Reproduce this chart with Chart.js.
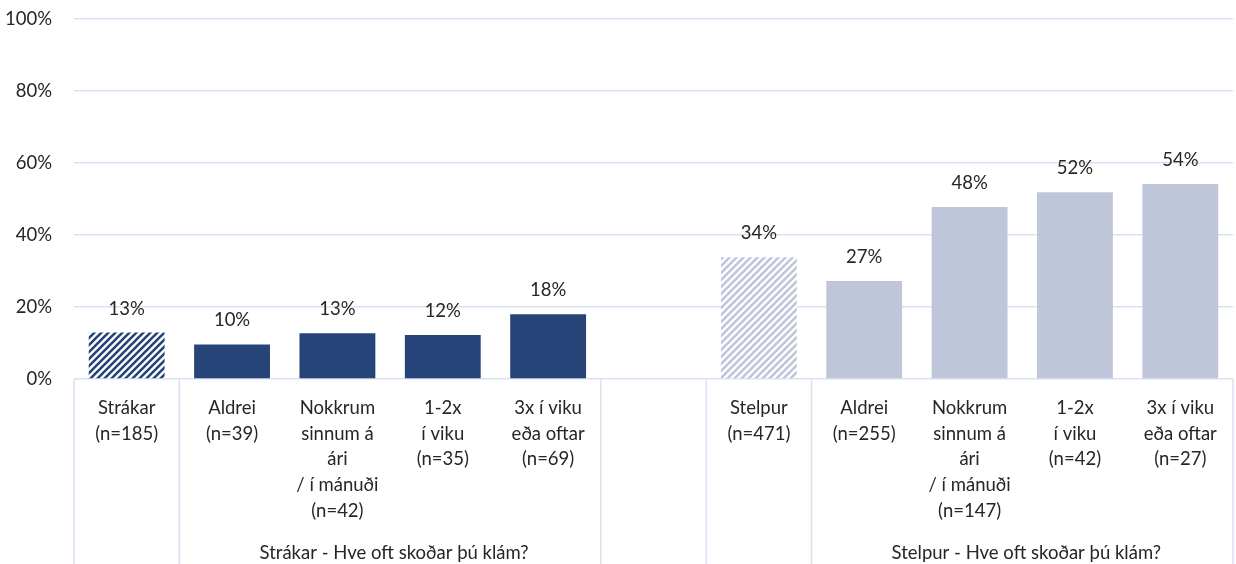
<!DOCTYPE html>
<html>
<head>
<meta charset="utf-8">
<script src="https://cdn.jsdelivr.net/npm/chart.js@4"></script>
<style>
  body { margin: 0; background: #fff; }
  #wrap { width: 1236px; height: 564px; }
</style>
</head>
<body>
<div id="wrap"><canvas id="chart"></canvas></div>
<script>
const categories = [
    ['Strákar', '(n=185)'],
    ['Aldrei', '(n=39)'],
    ['Nokkrum', 'sinnum á', 'ári', '/ í mánuði', '(n=42)'],
    ['1-2x', 'í viku', '(n=35)'],
    ['3x í viku', 'eða oftar', '(n=69)'],
    '',
    ['Stelpur', '(n=471)'],
    ['Aldrei', '(n=255)'],
    ['Nokkrum', 'sinnum á', 'ári', '/ í mánuði', '(n=147)'],
    ['1-2x', 'í viku', '(n=42)'],
    ['3x í viku', 'eða oftar', '(n=27)']
];
const values = [12.9, 9.6, 12.7, 12.2, 18.0, null, 33.8, 27.2, 47.8, 51.9, 54.2];
const groups = [
    { label: 'Strákar - Hve oft skoðar þú klám?', from: 1, to: 4 },
    { label: 'Stelpur - Hve oft skoðar þú klám?', from: 7, to: 10 }
];
// category boundaries that get a vertical separator below the axis
const separators = [0, 1, 5, 6, 7, 11];
const hatched = [0, 6];

const darkBlue = '#264478';
const lightBlue = '#BFC6DA';
const gridColor = '#D9E1F2';
const textColor = '#262626';
const fontFamily = 'Lato, "Open Sans", sans-serif';
const fontSize = 18.5;

function stripes(color) {
    const n = 7;
    const c = document.createElement('canvas');
    c.width = n;
    c.height = n;
    const g = c.getContext('2d');
    g.fillStyle = '#fff';
    g.fillRect(0, 0, n, n);
    g.strokeStyle = color;
    g.lineWidth = 2.6;
    g.beginPath();
    g.moveTo(-1, n + 1); g.lineTo(n + 1, -1);
    g.moveTo(-2, 2); g.lineTo(2, -2);
    g.moveTo(n - 2, n + 2); g.lineTo(n + 2, n - 2);
    g.stroke();
    return g.createPattern(c, 'repeat');
}

const ctx = document.querySelector('#chart').getContext('2d');
const colors = values.map((v, i) => {
    const base = i < 5 ? darkBlue : lightBlue;
    return hatched.includes(i) ? stripes(base) : base;
});

const extras = {
    id: 'extras',
    afterDatasetsDraw(chart) {
        const c = chart.ctx;
        const area = chart.chartArea;
        const x = chart.scales.x;
        const slot = (area.right - area.left) / categories.length;
        c.save();
        // value labels
        c.font = fontSize + 'px ' + fontFamily;
        c.fillStyle = textColor;
        c.textAlign = 'center';
        c.textBaseline = 'middle';
        chart.getDatasetMeta(0).data.forEach((bar, i) => {
            if (values[i] == null) return;
            c.fillText(Math.round(values[i]) + '%', bar.x, bar.y - 24);
        });
        // separators
        c.strokeStyle = gridColor;
        c.lineWidth = 1.5;
        separators.forEach(s => {
            const px = area.left + s * slot;
            c.beginPath();
            c.moveTo(px, area.bottom);
            c.lineTo(px, chart.height);
            c.stroke();
        });
        // group labels
        groups.forEach(g => {
            const cx = (x.getPixelForValue(g.from) + x.getPixelForValue(g.to)) / 2;
            c.fillText(g.label, cx + 4, 553);
        });
        c.restore();
    }
};

const chart = new Chart(ctx, {
    type: 'bar',
    data: {
        labels: categories,
        datasets: [{
            data: values,
            backgroundColor: colors,
            barPercentage: 0.72,
            categoryPercentage: 1
        }]
    },
    options: {
        responsive: true,
        maintainAspectRatio: false,
        animation: false,
        layout: { padding: { top: 19, right: 3, left: 0, bottom: 0 } },
        plugins: {
            legend: { display: false },
            tooltip: { enabled: false }
        },
        scales: {
            x: {
                grid: { display: false },
                border: { display: false },
                ticks: {
                    color: textColor,
                    font: { family: fontFamily, size: fontSize, lineHeight: 25.8 / fontSize },
                    padding: 8,
                    maxRotation: 0,
                    autoSkip: false
                },
                afterFit(s) { s.height = 185; }
            },
            y: {
                min: 0,
                max: 100,
                grid: { color: gridColor, lineWidth: 1.5, drawTicks: false },
                border: { display: false },
                ticks: {
                    stepSize: 20,
                    color: textColor,
                    font: { family: fontFamily, size: fontSize },
                    padding: 22,
                    callback: v => v + '%'
                },
                afterFit(s) {
                    s.width = 74;
                    s.paddingTop = 0;
                    s.paddingBottom = 0;
                }
            }
        }
    },
    plugins: [extras]
});
</script>
</body>
</html>
